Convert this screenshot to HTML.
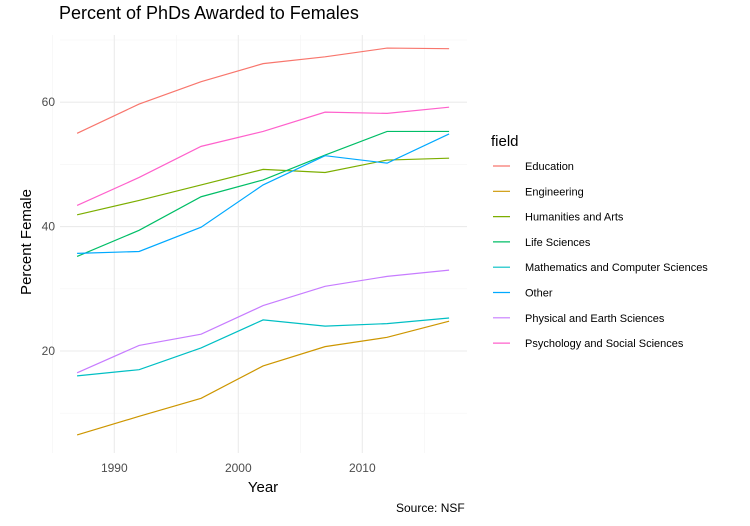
<!DOCTYPE html>
<html><head><meta charset="utf-8"><style>
body{margin:0;background:#fff;font-family:"Liberation Sans",sans-serif}
</style></head><body>
<svg id="c" width="750" height="521" xmlns="http://www.w3.org/2000/svg">
<text x="59" y="19" font-size="18" fill="#000">Percent of PhDs Awarded to Females</text>
<g id="grid"></g><g id="lines"></g><g id="axes"></g><g id="legend"></g>
<text x="263" y="492" font-size="15" text-anchor="middle" fill="#000">Year</text>
<text transform="translate(31,242) rotate(-90)" font-size="15" text-anchor="middle" fill="#000">Percent Female</text>
<text x="396" y="512" font-size="12" fill="#000">Source: NSF</text>
</svg>
<script>
const years=[1987,1992,1997,2002,2007,2012,2017];
const fields=["Education","Engineering","Humanities and Arts","Life Sciences","Mathematics and Computer Sciences","Other","Physical and Earth Sciences","Psychology and Social Sciences"];
const colors=["#F8766D","#CD9600","#7CAE00","#00BE67","#00BFC4","#00A9FF","#C77CFF","#FF61CC"];
const education=[55.0,59.7,63.3,66.2,67.3,68.7,68.6];
const engineering=[6.5,9.5,12.4,17.6,20.7,22.2,24.8];
const humanities=[41.9,44.2,46.7,49.2,48.7,50.7,51.0];
const lifeSciences=[35.2,39.4,44.8,47.5,51.5,55.3,55.3];
const mathCS=[16.0,17.0,20.5,25.0,24.0,24.4,25.3];
const other=[35.7,36.0,39.9,46.7,51.4,50.2,54.9];
const physical=[16.5,20.9,22.7,27.3,30.4,32.0,33.0];
const psychology=[43.4,47.9,52.9,55.3,58.4,58.2,59.2];
const series=[education,engineering,humanities,lifeSciences,mathCS,other,physical,psychology];
const xTicks=[1990,2000,2010];
const yTicks=[20,40,60];
const NS="http://www.w3.org/2000/svg";
const X=v=>114.3+(v-1990)*12.4;
const Y=v=>351-(v-20)*6.22;
const L=60,R=467,T=35,B=453;
function mk(tag,attrs,parent){const e=document.createElementNS(NS,tag);for(const k in attrs)e.setAttribute(k,attrs[k]);parent.appendChild(e);return e;}
const grid=document.getElementById('grid');
for(let v=10;v<=70;v+=10){const e=mk('line',{x1:L,x2:R,y1:Y(v),y2:Y(v),stroke:v%20===0?'#ebebeb':'#f4f4f4','stroke-width':v%20===0?1.1:0.6},grid);

}
for(let v=1985;v<=2015;v+=5){const e=mk('line',{x1:X(v),x2:X(v),y1:T,y2:B,stroke:v%10===0?'#ebebeb':'#f4f4f4','stroke-width':v%10===0?1.1:0.6},grid);

}
const axes=document.getElementById('axes');
xTicks.forEach(t=>{const e=mk('text',{x:X(t),y:472,'font-size':12,fill:'#4d4d4d','text-anchor':'middle'},axes);e.textContent=t;

});
yTicks.forEach(t=>{const e=mk('text',{x:55,y:Y(t)+4,'font-size':12,fill:'#4d4d4d','text-anchor':'end'},axes);e.textContent=t;

});
const lines=document.getElementById('lines');
series.forEach((s,i)=>{const e=mk('polyline',{points:s.map((v,j)=>X(years[j])+','+Y(v)).join(' '),fill:'none',stroke:colors[i],'stroke-width':1.2},lines);

});
const lg=document.getElementById('legend');
const lt=mk('text',{x:491,y:146,'font-size':15,fill:'#000'},lg);lt.textContent='field';


fields.forEach((f,i)=>{const y=166+i*25.3;
const g=mk('g',{},lg);


mk('line',{x1:493,x2:510,y1:y,y2:y,stroke:colors[i],'stroke-width':1.2},g);
const t=mk('text',{x:525,y:y+4,'font-size':11,fill:'#000'},g);t.textContent=f;});
</script>
</body></html>
